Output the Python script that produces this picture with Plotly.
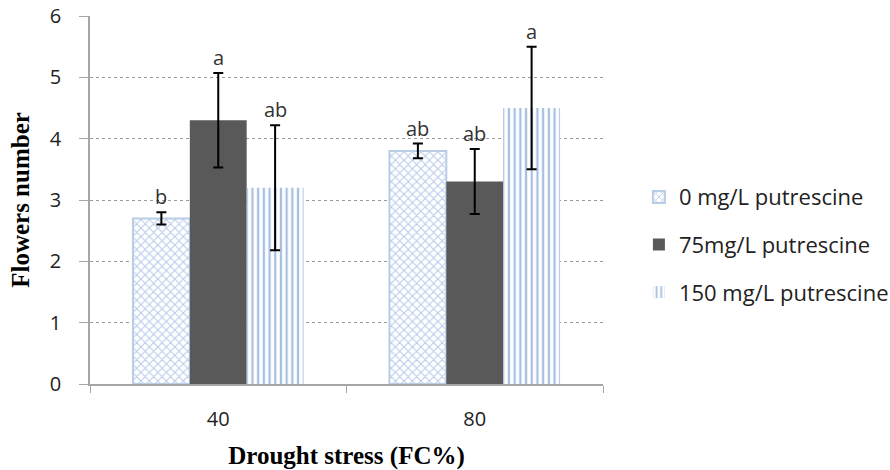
import plotly.graph_objects as go

categories = ["40", "80"]
series_names = ["0 mg/L putrescine", "75mg/L putrescine", "150 mg/L putrescine"]
values_0 = [2.7, 3.8]
errors_0 = [0.1, 0.12]
values_75 = [4.3, 3.3]
errors_75 = [0.77, 0.53]
values_150 = [3.2, 4.5]
errors_150 = [1.02, 1.0]
letters_0 = ["b", "ab"]
letters_75 = ["a", "ab"]
letters_150 = ["ab", "a"]

TICK_FONT = "Open Sans"
TITLE_FONT = "Liberation Serif"

fig = go.Figure()

fig.add_trace(go.Bar(
    x=categories, y=values_0, name=series_names[0], legendgroup="g0",
    error_y=dict(type="data", array=errors_0, color="black", thickness=2, width=5),
    marker=dict(color="white",
                line=dict(color="#b9cde5", width=2),
                pattern=dict(shape="x", fgcolor="#7396d4", bgcolor="white", size=6, solidity=0.33)),
))
fig.add_trace(go.Bar(
    x=categories, y=values_75, name=series_names[1], legendgroup="g1",
    error_y=dict(type="data", array=errors_75, color="black", thickness=2, width=5),
    marker=dict(color="#595959", line=dict(width=0)),
))
fig.add_trace(go.Bar(
    x=categories, y=values_150, name=series_names[2], legendgroup="g2",
    error_y=dict(type="data", array=errors_150, color="black", thickness=2, width=5),
    marker=dict(color="white", line=dict(width=0),
                pattern=dict(shape="|", fgcolor="#4f7fc4", bgcolor="white", size=5.7, solidity=0.4)),
))

# letter annotations above error bars (x as category index on the category axis)
plot_w = 890 - 90 - 287
bargap = 0.335
cat_px = plot_w / len(categories)
bar_px = cat_px * (1 - bargap) / 3
groups = [(values_0, errors_0, letters_0, -1), (values_75, errors_75, letters_75, 0),
          (values_150, errors_150, letters_150, 1)]
for vals, errs, lets, k in groups:
    for ci, (v, e, t) in enumerate(zip(vals, errs, lets)):
        fig.add_annotation(x=ci, y=v + e, xref="x", yref="y", text=t, showarrow=False,
                           xshift=k * bar_px, yanchor="bottom", yshift=0,
                           font=dict(family=TICK_FONT, size=20, color="#333333"))

fig.update_layout(
    width=890, height=470,
    margin=dict(l=90, r=287, t=16, b=86, autoexpand=False),
    paper_bgcolor="white", plot_bgcolor="white",
    barmode="group", bargap=bargap, bargroupgap=0,
    showlegend=True,
    legend=dict(x=1.07, y=0.565, xanchor="left", yanchor="top",
                font=dict(family=TICK_FONT, size=22, color="#222"),
                tracegroupgap=16, traceorder="grouped", itemwidth=30),
    xaxis=dict(
        type="category", range=[-0.5, len(categories) - 0.5],
        showline=True, linecolor="#a6a6a6", linewidth=1.5,
        ticks="outside", tickson="boundaries", ticklen=7, tickcolor="#a6a6a6",
        tickfont=dict(family=TICK_FONT, size=20, color="#222"),
        ticklabelstandoff=16, automargin=False,
        title=dict(text="Drought stress (FC%)", standoff=20,
                   font=dict(family=TITLE_FONT, size=25, color="black", weight="bold")),
        showgrid=False,
    ),
    yaxis=dict(
        range=[0, 6], dtick=1,
        showline=True, linecolor="#a6a6a6", linewidth=1.5,
        ticks="outside", ticklen=9, tickcolor="#a6a6a6",
        tickfont=dict(family=TICK_FONT, size=20, color="#222"),
        ticklabelstandoff=14, automargin=False,
        showgrid=True, gridcolor="#9a9a9a", griddash="dot", gridwidth=1,
        zeroline=False,
        title=dict(text="Flowers number", standoff=13,
                   font=dict(family=TITLE_FONT, size=25, color="black", weight="bold")),
    ),
)

fig.write_html("out.html")
